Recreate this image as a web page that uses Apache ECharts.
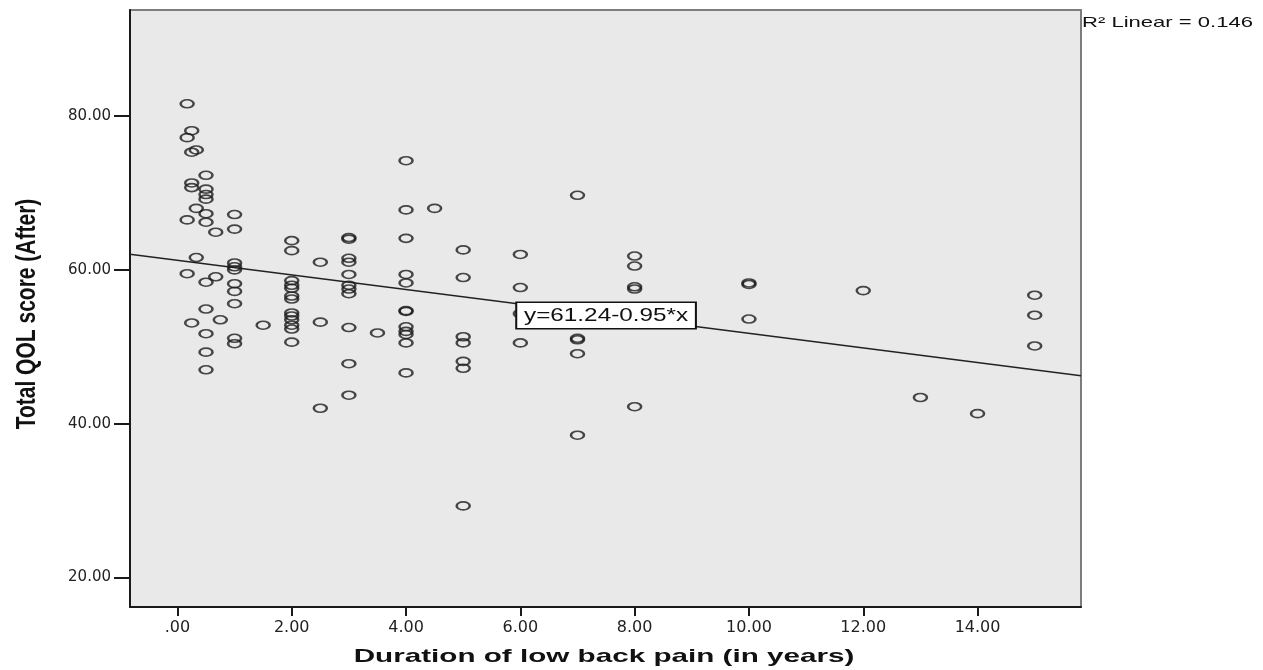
<!DOCTYPE html>
<html>
<head>
<meta charset="utf-8">
<title>Total QOL score vs duration of low back pain</title>
<script src="https://cdn.jsdelivr.net/npm/echarts@6/dist/echarts.min.js"></script>
<style>
  html, body { margin: 0; padding: 0; background: #fff; }
  #chart { width: 1263px; height: 670px; }
</style>
</head>
<body>
<div id="chart"></div>
<script>
// duration of low back pain (years) and total QOL score after, one entry per patient
const duration = [
  0.17, 0.17, 0.17, 0.17,
  0.25, 0.25, 0.25, 0.25, 0.25,
  0.33, 0.33, 0.33,
  0.5, 0.5, 0.5, 0.5, 0.5, 0.5, 0.5, 0.5, 0.5, 0.5, 0.5,
  0.67, 0.67,
  0.75,
  1, 1, 1, 1, 1, 1, 1, 1, 1, 1,
  1.5,
  2, 2, 2, 2, 2, 2, 2, 2, 2, 2, 2, 2, 2,
  2.5, 2.5, 2.5,
  3, 3, 3, 3, 3, 3, 3, 3, 3, 3, 3,
  3.5,
  4, 4, 4, 4, 4, 4, 4, 4, 4, 4, 4, 4,
  4.5,
  5, 5, 5, 5, 5, 5, 5,
  6, 6, 6, 6,
  7, 7, 7, 7, 7,
  8, 8, 8, 8, 8,
  10, 10, 10,
  12,
  13,
  14,
  15, 15, 15
]
const qolScore = [
  81.6, 77.2, 66.5, 59.5,
  78.1, 75.3, 71.3, 70.7, 53.1,
  75.6, 68.0, 61.6,
  72.3, 70.5, 69.8, 69.2, 67.3, 66.2, 58.4, 54.9, 51.7, 49.3, 47.0,
  64.9, 59.1,
  53.5,
  67.2, 65.3, 60.9, 60.4, 60.0, 58.2, 57.2, 55.6, 51.1, 50.4,
  52.8,
  63.8, 62.5, 58.6, 58.0, 57.6, 56.6, 56.2, 54.4, 54.0, 53.5, 52.8, 52.3, 50.6,
  61.0, 53.2, 42.0,
  64.2, 64.0, 61.5, 61.0, 59.4, 58.0, 57.5, 56.9, 52.5, 47.8, 43.7,
  51.8,
  74.2, 67.8, 64.1, 59.4, 58.3, 54.7, 54.6, 52.6, 52.0, 51.6, 50.5, 46.6,
  68.0,
  62.6, 59.0, 51.3, 50.5, 48.1, 47.2, 29.3,
  62.0, 57.7, 54.3, 50.5,
  69.7, 51.1, 50.9, 49.1, 38.5,
  61.8, 60.5, 57.8, 57.5, 42.2,
  58.3, 58.1, 53.6,
  57.3,
  43.4,
  41.3,
  56.7, 54.1, 50.1
]

const xTicks = [0, 2, 4, 6, 8, 10, 12, 14]
const yTicks = [20, 40, 60, 80]

// linear fit reported on the chart
const fitIntercept = 61.24
const fitSlope = -0.95
const rSquared = 0.146
const fitLabelAt = 7.5

const xMin = -0.83
const xMax = 15.81
const yMin = 16.15
const yMax = 93.8

const fit = x => fitIntercept + fitSlope * x
const tickText = v => (v === 0 ? '.00' : v.toFixed(2))

const chart = echarts.init(document.getElementById('chart'))

const option = {
  animation: false,
  grid: {
    left: 130,
    right: 182,
    top: 10,
    bottom: 63,
    show: true,
    backgroundColor: '#e9e9e9',
    borderColor: '#7d7d7d',
    borderWidth: 2
  },
  xAxis: {
    type: 'value',
    min: xMin,
    max: xMax,
    axisLine: { show: true, onZero: false, lineStyle: { color: '#1a1a1a', width: 2 } },
    axisTick: { show: true, length: 9, customValues: xTicks, lineStyle: { color: '#1a1a1a', width: 2 } },
    axisLabel: {
      customValues: xTicks,
      formatter: tickText,
      margin: 13,
      color: '#222',
      fontFamily: '"DejaVu Sans", sans-serif',
      fontSize: 16
    },
    splitLine: { show: false }
  },
  yAxis: {
    type: 'value',
    min: yMin,
    max: yMax,
    axisLine: { show: true, onZero: false, lineStyle: { color: '#1a1a1a', width: 2 } },
    axisTick: { show: true, length: 16, customValues: yTicks, lineStyle: { color: '#1a1a1a', width: 2 } },
    axisLabel: {
      customValues: yTicks,
      formatter: tickText,
      margin: 19,
      color: '#222',
      fontFamily: '"DejaVu Sans", sans-serif',
      fontSize: 15
    },
    splitLine: { show: false }
  },
  series: [
    {
      type: 'line',
      data: [[xMin, fit(xMin)], [xMax, fit(xMax)]],
      symbol: 'none',
      silent: true,
      lineStyle: { color: '#222', width: 1.4 },
      z: 2
    },
    {
      type: 'scatter',
      data: duration.map((d, i) => [d, qolScore[i]]),
      symbol: 'path://M0,4A6.5,4,0,1,1,13,4A6.5,4,0,1,1,0,4Z',
      symbolSize: [13, 8],
      itemStyle: { color: 'rgba(0,0,0,0)', borderColor: '#1c1c1c', borderWidth: 2 },
      z: 3
    }
  ]
}

chart.setOption(option)

const labelPos = chart.convertToPixel({ gridIndex: 0 }, [fitLabelAt, fit(fitLabelAt)])
const sansFont = '"Liberation Sans", Arial, sans-serif'

chart.setOption({
  graphic: [
    {
      type: 'text',
      x: 604,
      y: 657,
      scaleX: 1.56,
      style: {
        text: 'Duration of low back pain (in years)',
        font: 'bold 19px ' + sansFont,
        fill: '#111',
        align: 'center',
        verticalAlign: 'middle'
      }
    },
    {
      type: 'text',
      x: 27,
      y: 314,
      rotation: Math.PI / 2,
      scaleY: 1.3,
      style: {
        text: 'Total QOL score (After)',
        font: 'bold 21px ' + sansFont,
        fill: '#111',
        align: 'center',
        verticalAlign: 'middle'
      }
    },
    {
      type: 'text',
      x: 1082,
      y: 23,
      scaleX: 1.47,
      style: {
        text: 'R² Linear = ' + rSquared.toFixed(3),
        font: '15px ' + sansFont,
        fill: '#111',
        align: 'left',
        verticalAlign: 'middle'
      }
    },
    {
      type: 'text',
      x: labelPos[0],
      y: labelPos[1] + 0.5,
      scaleX: 1.35,
      z: 100,
      style: {
        text: 'y=' + fitIntercept.toFixed(2) + '-' + Math.abs(fitSlope).toFixed(2) + '*x',
        font: '18px ' + sansFont,
        fill: '#111',
        align: 'center',
        verticalAlign: 'middle',
        backgroundColor: '#fff',
        borderColor: '#111',
        borderWidth: 1.5,
        padding: [4, 5, 3, 5]
      }
    }
  ]
})

window.addEventListener('resize', () => chart.resize())
</script>
</body>
</html>
